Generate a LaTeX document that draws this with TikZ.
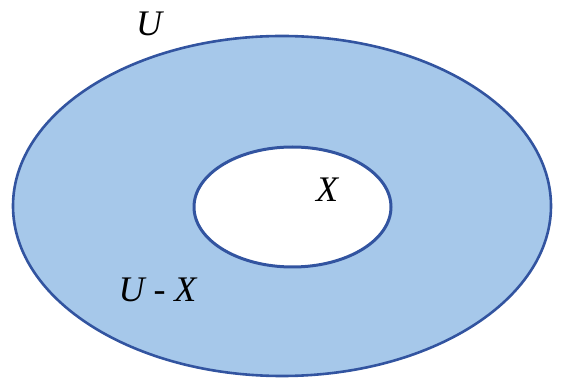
\documentclass[tikz,border=0pt]{standalone}
\usepackage{fontspec}
\setmainfont{Liberation Serif}
\usetikzlibrary{positioning}

\definecolor{setfill}{RGB}{166,200,234}
\definecolor{setline}{RGB}{50,84,160}

\begin{document}
\begin{tikzpicture}[x=1pt, y=-1pt,
    setlabel/.style={font=\fontsize{36}{40}\selectfont\itshape, inner sep=0pt}]
  \useasboundingbox (0,0) rectangle (563,379);

  % Universe with the hole cut out
  \fill[setfill, even odd rule] (282,206) ellipse [x radius=269, y radius=170]
    (292.5,207) ellipse [x radius=98.5, y radius=60];
  \draw[setline, line width=2.6pt] (282,206) ellipse [x radius=269, y radius=170];
  \draw[setline, line width=3pt] (292.5,207) ellipse [x radius=98.5, y radius=60];

  % Labels
  \node[setlabel] (univ) at (149,24) {U};
  \node[setlabel] (subset) at (327,190) {X};
  \node[setlabel] (compl) at (157.5,290) {U - X};
\end{tikzpicture}
\end{document}
